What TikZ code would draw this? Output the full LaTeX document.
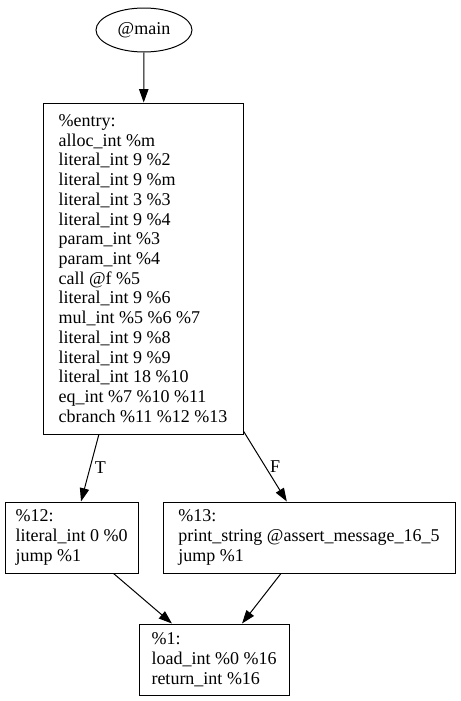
\documentclass[tikz,border=0pt]{standalone}
\usepackage{fontspec}
\setmainfont{Liberation Serif}
\usetikzlibrary{shapes.geometric, arrows.meta}

\begin{document}
\begin{tikzpicture}[
  x=0.75pt, y=-0.75pt,
  every node/.style={font=\fontsize{13.5}{14.8}\selectfont},
  block/.style={rectangle, draw, line width=0.75pt, align=left, inner sep=0pt, minimum height=53.25pt},
  edge/.style={-{Triangle[length=10pt, width=7pt]}, line width=0.75pt},
]
  \useasboundingbox (0,0) rectangle (461,701);

  % Fonction
  \node[ellipse, draw, line width=0.75pt, minimum width=72pt, minimum height=33pt, inner sep=0pt] (main) at (144,30) {@main};

  % Blocs de base
  \node[block, minimum width=150pt, minimum height=248.25pt] (entry) at (143,268.5) {\%entry:\\
    alloc\_int \%m\\
    literal\_int 9 \%2\\
    literal\_int 9 \%m\\
    literal\_int 3 \%3\\
    literal\_int 9 \%4\\
    param\_int \%3\\
    param\_int \%4\\
    call @f \%5\\
    literal\_int 9 \%6\\
    mul\_int \%5 \%6 \%7\\
    literal\_int 9 \%8\\
    literal\_int 9 \%9\\
    literal\_int 18 \%10\\
    eq\_int \%7 \%10 \%11\\
    cbranch \%11 \%12 \%13};
  \node[block, minimum width=99.75pt] (b12) at (71.5,537.5) {\%12:\\literal\_int 0 \%0\\jump \%1};
  \node[block, minimum width=219pt] (b13) at (309,537.5) {\%13:\\print\_string @assert\_message\_16\_5\\jump \%1};
  \node[block, minimum width=112.5pt] (b1) at (214,659.5) {\%1:\\load\_int \%0 \%16\\return\_int \%16};

  % Arcs
  \draw[edge] (main) -- (entry);
  \draw[edge] (entry) -- node[right]{T} (b12);
  \draw[edge] (entry) -- node[right]{F} (b13);
  \draw[edge] (b12) -- (b1);
  \draw[edge] (b13) -- (b1);
\end{tikzpicture}
\end{document}
